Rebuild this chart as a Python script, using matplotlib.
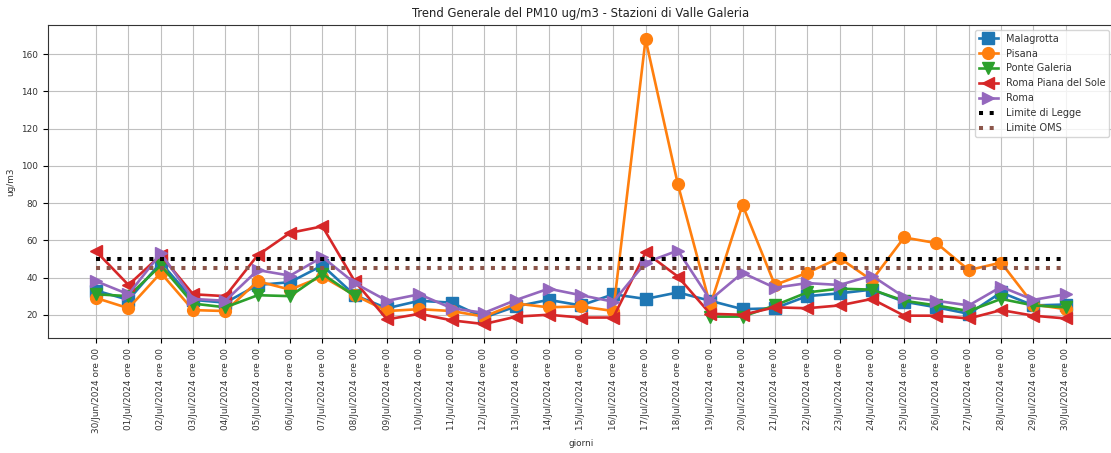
import numpy as np
import matplotlib
matplotlib.use("Agg")
import matplotlib.pyplot as plt

nan = np.nan
days = ["30/Jun/2024"] + ["%02d/Jul/2024" % d for d in range(1, 31)]
labels = [d + " ore 00" for d in days]

malagrotta = [33, 28, 48, 28, 26.5, 36, 37.5, 46.5, 30.5, 23.5, 27.5, 26.5, 18.5, 24.5, 28, 25,
              31, 28.5, 32, 27.5, 23, 23.5, 30, 31.5, 33.5, 27, 24, 20.5, 32, 25, 25.5]
pisana = [29, 23.5, 42.5, 22.5, 22, 38, 33.5, 40.5, 30.5, 22, 23, 22, 19, 26, 24, 24.5,
          22, 168, 90, 25, 79, 36, 42.5, 50.5, 38.5, 61.5, 58.5, 44, 48, 25.5, 23]
ponte_galeria = [31, 30, 46.5, 26, 24, 30.5, 30, 42, 30, nan, nan, nan, nan, nan, nan, nan,
                 nan, nan, nan, 19, 19, 25, 32, 34, 33.5, 27.5, 25, 22, 28.5, 25, 24]
roma_piana = [54, 36, 52, 31, 30, 52, 64, 67.5, 38, 17.5, 20.5, 17, 15, 19, 20, 18.5,
              18.5, 53.5, 40.5, 20.5, 20, 24, 23.5, 25, 28.5, 19.5, 19.5, 18, 22.5, 19.5, 18]
roma = [38, 31, 53, 28.5, 27.5, 44, 41, 51, 37, 27.5, 31, 23.5, 21, 28, 34, 30.5,
        27, 48, 54.5, 28, 42.5, 34.5, 37, 36, 41, 29.5, 27.5, 25, 35, 28, 31]
limite_legge = [50] * 31
limite_oms = [45] * 31

series = [
    ("Malagrotta", malagrotta, "s", "#1f77b4"),
    ("Pisana", pisana, "o", "#ff7f0e"),
    ("Ponte Galeria", ponte_galeria, "v", "#2ca02c"),
    ("Roma Piana del Sole", roma_piana, "<", "#d62728"),
    ("Roma", roma, ">", "#9467bd"),
]

fig = plt.figure(figsize=(11.11, 4.53), dpi=100)
ax = fig.add_axes([0.0429, 0.2532, 0.960, 0.6916])
x = np.arange(len(labels))
for name, vals, m, c in series:
    ax.plot(x, vals, marker=m, color=c, label=name, linewidth=1.9, markersize=8.5)
ax.plot(x, limite_legge, linestyle=":", color="black", linewidth=2.9, label="Limite di Legge")
ax.plot(x, limite_oms, linestyle=":", color="#8c564b", linewidth=2.9, label="Limite OMS")

ax.set_xticks(x)
ax.set_xticklabels(labels, rotation=90, fontsize=6.4, color="#333333")
ax.tick_params(axis="y", labelsize=6.4, labelcolor="#333333")
for s in ax.spines.values():
    s.set_color("#333333")
ax.grid(True, color="#c0c0c0", linewidth=0.8)
ax.set_title("Trend Generale del PM10 ug/m3 - Stazioni di Valle Galeria", fontsize=8.4, color="#222222")
ax.set_xlabel("giorni", fontsize=6.4, color="#333333")
ax.set_ylabel("ug/m3", fontsize=6.4, color="#333333")
leg = ax.legend(loc="upper right", fontsize=7.0)
for t in leg.get_texts():
    t.set_color("#333333")
fig.savefig("out.png", dpi=100)
